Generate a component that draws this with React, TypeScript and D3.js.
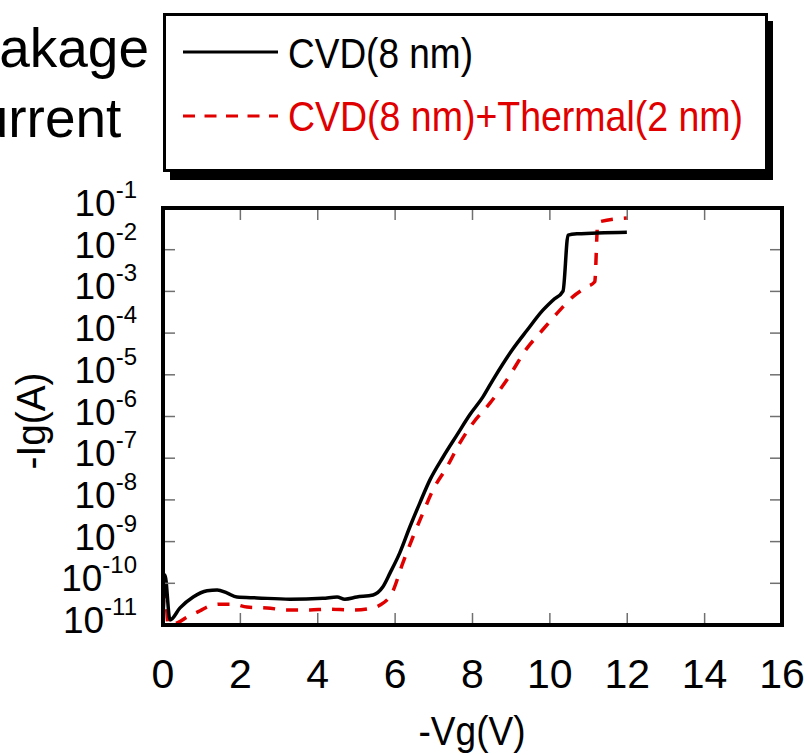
import React from 'react';
import * as d3 from 'd3';

// gate voltage (-Vg, V) and leakage current (-Ig, A)
const cvdVg = [0, 0.05, 0.18, 0.44, 0.78, 1.14, 1.4, 1.65, 1.91, 2.43, 3.28, 4.13, 4.5, 4.7, 5.01, 5.43, 5.68,
    5.87, 6.12, 6.38, 6.64, 6.9, 7.24, 7.6, 7.93, 8.27, 8.53, 9.02, 9.41, 9.82, 10.08, 10.34, 10.47, 10.7, 11.99];
const cvdIg = [1.12e-11, 1.58e-10, 1.32e-11, 2.57e-11, 4.68e-11, 6.61e-11, 6.92e-11, 5.89e-11, 4.68e-11, 4.47e-11,
    4.17e-11, 4.37e-11, 4.68e-11, 4.17e-11, 4.68e-11, 5.25e-11, 8.13e-11, 1.78e-10, 5.37e-10, 2.24e-9, 8.51e-9,
    3.02e-8, 1.07e-7, 3.63e-7, 1.1e-6, 2.95e-6, 7.59e-6, 3.89e-5, 1.17e-4, 3.55e-4, 6.17e-4, 1.02e-3, 2.24e-2,
    2.4e-2, 2.63e-2];

const thermVg = [0, 0.05, 0.13, 0.36, 0.62, 0.96, 1.14, 1.47, 1.81, 2.17, 2.69, 3.2, 3.8, 4.24, 4.91, 5.43, 5.61,
    5.92, 6.2, 6.46, 6.72, 6.98, 7.34, 7.67, 8.01, 8.45, 8.89, 9.41, 9.74, 10.26, 10.59, 10.96, 11.16, 11.24, 11.99];
const thermIg = [2.0e-11, 7.76e-11, 1.05e-11, 1.12e-11, 1.55e-11, 2.19e-11, 2.69e-11, 3.16e-11, 3.16e-11, 2.69e-11,
    2.57e-11, 2.29e-11, 2.29e-11, 2.4e-11, 2.29e-11, 2.57e-11, 3.02e-11, 5.89e-11, 3.09e-10, 1.29e-9, 4.9e-9,
    1.74e-8, 6.17e-8, 2.29e-7, 6.92e-7, 2.09e-6, 7.59e-6, 4.37e-5, 1.0e-4, 3.55e-4, 7.41e-4, 1.29e-3, 1.7e-3,
    4.57e-2, 5.75e-2];

const xTicks = [0, 2, 4, 6, 8, 10, 12, 14, 16];
const yExponents = [-1, -2, -3, -4, -5, -6, -7, -8, -9, -10, -11];

const seriesNames = ['CVD(8 nm)', 'CVD(8 nm)+Thermal(2 nm)'];

const font = '"Liberation Sans", Arial, sans-serif';
const red = '#e00000';

export default function App()
{
    let left = 163, right = 782, top = 208, bottom = 625;

    let x = d3.scaleLinear().domain([0, 16]).range([left, right]);
    let y = d3.scaleLog().domain([1e-11, 1e-1]).range([bottom, top]);

    let cvdPath = d3.line<number>()
        .x(function(d, i) { return x(cvdVg[i]); })
        .y(function(d) { return y(d); })
        .curve(d3.curveMonotoneX)(cvdIg);

    let thermPath = d3.line<number>()
        .x(function(d, i) { return x(thermVg[i]); })
        .y(function(d) { return y(d); })
        .curve(d3.curveMonotoneX)(thermIg);

    let innerY = yExponents.slice(1, -1);
    let innerX = xTicks.slice(1, -1);

    let yTicks = innerY.map(function(e)
    {
        let py = y(Math.pow(10, e));
        return (
            <g key={e} stroke="#707070" strokeWidth="1.5">
                <line x1={left} x2={left + 12} y1={py} y2={py}/>
                <line x1={right} x2={right - 12} y1={py} y2={py}/>
            </g>
        );
    });

    let xTickLines = innerX.map(function(v)
    {
        return (
            <g key={v} stroke="#707070" strokeWidth="1.5">
                <line x1={x(v)} x2={x(v)} y1={bottom} y2={bottom - 12}/>
                <line x1={x(v)} x2={x(v)} y1={top} y2={top + 12}/>
            </g>
        );
    });

    let yLabels = yExponents.map(function(e)
    {
        let py = y(Math.pow(10, e));
        return (
            <text key={e} x={137} y={py + 8} textAnchor="end" fontSize="37" fill="#000">
                10<tspan dy="-18" fontSize="24">{String(e)}</tspan>
            </text>
        );
    });

    let xLabels = xTicks.map(function(v)
    {
        return (
            <text key={v} x={x(v)} y={688} textAnchor="middle" fontSize="41" fill="#000">{v}</text>
        );
    });

    return (
        <svg width={809} height={755} style={{position: 'absolute', left: 0, top: 0, background: '#fff'}}
             fontFamily={font}>
            <defs>
                <clipPath id="plotClip">
                    <rect x={left} y={top} width={right - left} height={bottom - top}/>
                </clipPath>
            </defs>

            <text x={-62} y={67} fontSize="55" fill="#000">Leakage</text>
            <text x={-62} y={137} fontSize="55" fill="#000">Current</text>

            {/* legend */}
            <rect x={170} y={21} width={603} height={159} fill="#000"/>
            <rect x={164.5} y={14.5} width={602} height={156} fill="#fff" stroke="#000" strokeWidth="3"/>
            <line x1={183} x2={278} y1={52} y2={52} stroke="#000" strokeWidth="3"/>
            <text x={288} y={68} fontSize="42" textLength={185} lengthAdjust="spacingAndGlyphs"
                  fill="#000">{seriesNames[0]}</text>
            <line x1={183} x2={278} y1={116} y2={116} stroke={red} strokeWidth="3" strokeDasharray="12,9.5"/>
            <text x={288} y={131} fontSize="42" textLength={455} lengthAdjust="spacingAndGlyphs"
                  fill={red}>{seriesNames[1]}</text>

            {/* plot */}
            <g clipPath="url(#plotClip)">
                <path d={thermPath} fill="none" stroke={red} strokeWidth="3.5" strokeDasharray="12,11"/>
                <path d={cvdPath} fill="none" stroke="#000" strokeWidth="3.5"/>
            </g>
            {yTicks}
            {xTickLines}
            <rect x={left} y={top} width={right - left} height={bottom - top} fill="none" stroke="#000"
                  strokeWidth="4"/>

            {yLabels}
            {xLabels}

            <text x={472} y={745} textAnchor="middle" fontSize="40" textLength={107}
                  lengthAdjust="spacingAndGlyphs" fill="#000">-Vg(V)</text>
            <text transform="translate(45,421) rotate(-90)" textAnchor="middle" fontSize="40" textLength={97}
                  lengthAdjust="spacingAndGlyphs" fill="#000">-Ig(A)</text>
        </svg>
    );
}
